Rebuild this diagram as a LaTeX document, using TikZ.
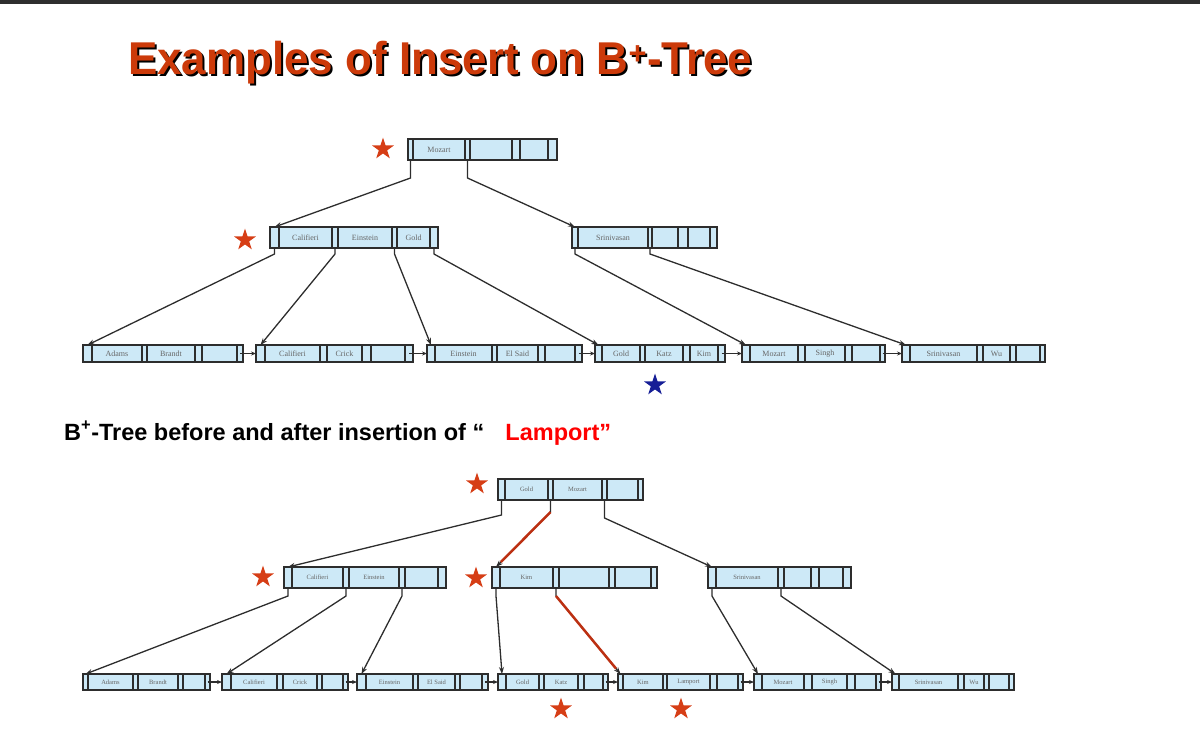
\documentclass[tikz,border=0pt]{standalone}
\usepackage{fontspec}
\setmainfont{Liberation Sans}
\newfontfamily\cellserif{Liberation Serif}
\usetikzlibrary{arrows.meta,shapes.geometric}
\definecolor{cellblue}{RGB}{205,233,247}
\definecolor{titlered}{RGB}{204,58,10}
\definecolor{starred}{RGB}{214,62,22}
\definecolor{starblue}{RGB}{22,30,150}
\definecolor{linkred}{RGB}{188,48,18}
\definecolor{edgegray}{RGB}{45,45,45}
\tikzset{
 cellbox/.style={draw=edgegray, line width=1.2pt, fill=cellblue, inner sep=0pt, outer sep=0pt, text=black!60, anchor=north west},
 topcell/.style={cellbox, font=\cellserif\fontsize{8}{8}\selectfont},
 botcell/.style={cellbox, font=\cellserif\fontsize{6.5}{6.5}\selectfont},
 edge/.style={draw=edgegray, line width=1.3pt, -{Stealth[length=7pt,width=5pt]}},
 leaflink/.style={draw=edgegray, line width=1.2pt, -{Stealth[length=5pt,width=4pt]}},
 redlink/.style={draw=linkred, line width=2.5pt},
 starmark/.style={star, star points=5, star point ratio=2.6, fill=starred, draw=none, minimum size=23pt, inner sep=0pt},
}
\newcommand{\bnode}[6]{%
 \xdef\bcx{#3}%
 \foreach \cw/\ct [count=\ci] in {#6} {%
   \node[#2, minimum width=\cw pt, minimum height=#5pt] (#1-\ci) at (\bcx,#4) {\ct};
   \pgfmathsetmacro\bnx{\bcx+\cw}\xdef\bcx{\bnx}%
 }}
\begin{document}
\begin{tikzpicture}[x=1pt,y=-1pt]
\useasboundingbox (0,0) rectangle (1200,740);
\fill[black!82] (0,0) rectangle (1200,4);
% title
\node[anchor=base west, font=\bfseries\fontsize{46}{46}\selectfont, text=black, xscale=0.955, inner sep=0pt] (titleshadow) at (130,76) {Examples of Insert on B\textsuperscript{+}-Tree};
\node[anchor=base west, font=\bfseries\fontsize{46}{46}\selectfont, text=titlered, xscale=0.955, inner sep=0pt] (title) at (128,74) {Examples of Insert on B\textsuperscript{+}-Tree};
% ---------- top tree ----------
\bnode{T}{topcell}{408}{139}{21}{5/,52/Mozart,5/,42/,8/,28/,9/}
\bnode{A}{topcell}{270}{227}{21}{9/,53/Califieri,6/,54/Einstein,5/,33/Gold,8/}
\bnode{B}{topcell}{572}{227}{21}{6/,70/Srinivasan,4/,26/,10/,22/,7/}
\bnode{L1}{topcell}{83}{345}{17}{9/,50/Adams,5/,48/Brandt,7/,35/,6/}
\bnode{L2}{topcell}{256}{345}{17}{9/,55/Califieri,7/,35/Crick,9/,34/,8/}
\bnode{L3}{topcell}{427}{345}{17}{8/,57/Einstein,5/,41/El Said,7/,30/,7/}
\bnode{L4}{topcell}{595}{345}{17}{7/,38/Gold,5/,38/Katz,7/,28/Kim,7/}
\bnode{L5}{topcell}{742}{345}{17}{8/,48/Mozart,7/,40/Singh,7/,28/,5/}
\bnode{L6}{topcell}{902}{345}{17}{8/,67/Srinivasan,6/,27/Wu,6/,24/,5/}
\draw[edge] (T-1.south) -- ++(0,18) -- (A-1.north);
\draw[edge] (T-3.south) -- ++(0,18) -- (B-1.north);
\draw[edge] (A-1.south) -- ++(0,6) -- (L1-1.north);
\draw[edge] (A-3.south) -- ++(0,6) -- (L2-1.north);
\draw[edge] (A-5.south) -- ++(0,6) -- (L3-1.north);
\draw[edge] (A-7.south) -- ++(0,6) -- (L4-1.north);
\draw[edge] (B-1.south) -- ++(0,6) -- (L5-1.north);
\draw[edge] (B-3.south) -- ++(0,6) -- (L6-1.north);
\draw[leaflink] (L1-7.center) -- (L2-1.west);
\draw[leaflink] (L2-7.center) -- (L3-1.west);
\draw[leaflink] (L3-7.center) -- (L4-1.west);
\draw[leaflink] (L4-7.center) -- (L5-1.west);
\draw[leaflink] (L5-7.center) -- (L6-1.west);
\node[starmark] (s1) at (383,149) {};
\node[starmark] (s2) at (245,240) {};
\node[starmark, fill=starblue] (s3) at (655,385) {};
% caption
\node[anchor=base west, font=\bfseries\fontsize{23.5}{23.5}\selectfont, inner sep=0pt] (caption) at (64,440) {B\textsuperscript{+}-Tree before and after insertion of “\hspace{0.9em}\textcolor{red}{Lamport”}};
% ---------- bottom tree ----------
\bnode{R}{botcell}{498}{479}{21}{7/,43/Gold,5/,49/Mozart,5/,31/,5/}
\bnode{C}{botcell}{284}{567}{21}{8/,51/Califieri,6/,50/Einstein,6/,33/,8/}
\bnode{K}{botcell}{492}{567}{21}{8/,53/Kim,6/,50/,6/,36/,6/}
\bnode{S}{botcell}{708}{567}{21}{8/,62/Srinivasan,6/,27/,8/,24/,8/}
\bnode{M1}{botcell}{83}{674}{16}{5/,45/Adams,5/,40/Brandt,5/,22/,5/}
\bnode{M2}{botcell}{222}{674}{16}{9/,46/Califieri,6/,34/Crick,5/,21/,5/}
\bnode{M3}{botcell}{357}{674}{16}{9/,47/Einstein,5/,37/El Said,5/,22/,6/}
\bnode{M4}{botcell}{498}{674}{16}{8/,33/Gold,5/,34/Katz,6/,19/,5/}
\bnode{M5}{botcell}{618}{674}{16}{5/,40/Kim,4/,43/Lamport,7/,21/,5/}
\bnode{M6}{botcell}{754}{674}{16}{8/,42/Mozart,8/,35/Singh,8/,21/,5/}
\bnode{M7}{botcell}{892}{674}{16}{7/,59/Srinivasan,6/,20/Wu,5/,20/,5/}
\draw[edge] (R-1.south) -- ++(0,15) -- (C-1.north);
\draw[edge] (R-3.south) -- ++(0,12) coordinate (rk) -- (K-1.north);
\draw[edge] (R-5.south) -- ++(0,18) -- (S-1.north);
\draw[edge] (C-1.south) -- ++(0,8) -- (M1-1.north);
\draw[edge] (C-3.south) -- ++(0,8) -- (M2-1.north);
\draw[edge] (C-5.south) -- ++(0,8) -- (M3-1.north);
\draw[edge] (K-1.south) -- ++(0,8) -- (M4-1.north);
\draw[edge] (K-3.south) -- ++(0,8) coordinate (kl) -- (M5-1.north);
\draw[edge] (S-1.south) -- ++(0,8) -- (M6-1.north);
\draw[edge] (S-3.south) -- ++(0,8) -- (M7-1.north);
\draw[redlink, shorten >=7pt] (rk) -- (K-1.north);
\draw[redlink, shorten >=7pt] (kl) -- (M5-1.north);
\draw[leaflink] (M1-7.center) -- (M2-1.west);
\draw[leaflink] (M2-7.center) -- (M3-1.west);
\draw[leaflink] (M3-7.center) -- (M4-1.west);
\draw[leaflink] (M4-7.center) -- (M5-1.west);
\draw[leaflink] (M5-7.center) -- (M6-1.west);
\draw[leaflink] (M6-7.center) -- (M7-1.west);
\node[starmark] (s4) at (477,484) {};
\node[starmark] (s5) at (263,577) {};
\node[starmark] (s6) at (476,578) {};
\node[starmark] (s7) at (561,709) {};
\node[starmark] (s8) at (681,709) {};
\end{tikzpicture}
\end{document}
